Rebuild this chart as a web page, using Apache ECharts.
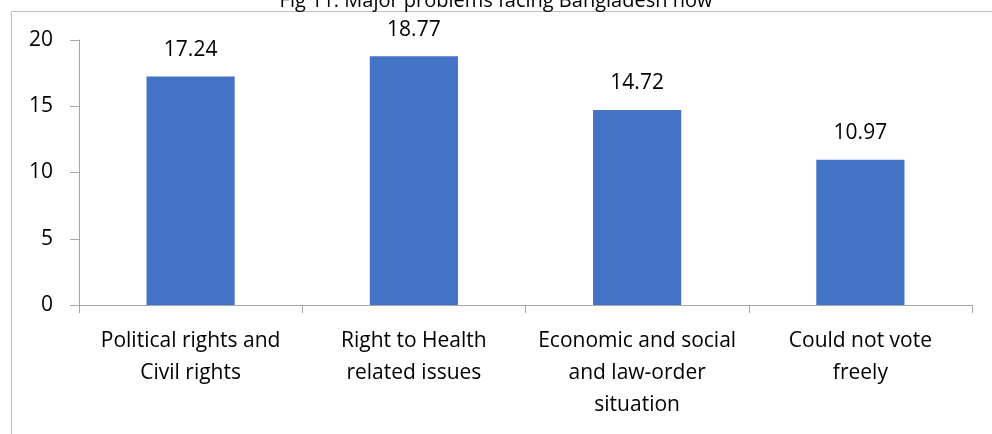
<!DOCTYPE html>
<html>
<head>
<meta charset="utf-8">
<script src="https://cdn.jsdelivr.net/npm/echarts@6/dist/echarts.min.js"></script>
<style>
  html, body { margin: 0; padding: 0; background: #fff; }
  #chart { width: 992px; height: 434px; }
</style>
</head>
<body>
<div id="chart"></div>
<script>
// Share of respondents naming each problem
const categories = [
  'Political rights and\nCivil rights',
  'Right to Health\nrelated issues',
  'Economic and social\nand law-order\nsituation',
  'Could not vote\nfreely'
];
const values = [17.24, 18.77, 14.72, 10.97];
const yTicks = [0, 5, 10, 15, 20];

const FONT = '"Open Sans", sans-serif';
const AXIS_GREY = '#a6a6a6';

const chart = echarts.init(document.getElementById('chart'));
chart.setOption({
  animation: false,
  title: {
    text: 'Fig 11: Major problems facing Bangladesh now',
    left: 'center',
    top: -14,
    textStyle: { fontFamily: FONT, fontSize: 20, fontWeight: 'normal', color: '#000' }
  },
  graphic: [{
    type: 'rect',
    left: 9, top: 9,
    shape: { width: 1100, height: 600 },
    style: { fill: 'none', stroke: '#bfbfbf', lineWidth: 1 },
    silent: true
  }],
  grid: { left: 79, right: 20, top: 40, bottom: 129 },
  xAxis: {
    type: 'category',
    data: categories,
    axisLine: { lineStyle: { color: AXIS_GREY, width: 1 } },
    axisTick: { show: true, alignWithLabel: false, length: 8, lineStyle: { color: AXIS_GREY } },
    axisLabel: {
      interval: 0, margin: 20,
      fontFamily: FONT, fontSize: 21, lineHeight: 32, color: '#000', align: 'center'
    }
  },
  yAxis: {
    type: 'value',
    min: yTicks[0], max: yTicks[yTicks.length - 1], interval: 5,
    splitLine: { show: false },
    axisLine: { show: true, lineStyle: { color: AXIS_GREY, width: 1 } },
    axisTick: { show: true, length: 9, lineStyle: { color: AXIS_GREY } },
    axisLabel: { margin: 26, fontFamily: FONT, fontSize: 21, color: '#000' }
  },
  series: [{
    type: 'bar',
    data: values,
    barWidth: '39.5%',
    itemStyle: { color: '#4472C4' },
    label: {
      show: true, position: 'top', distance: 16,
      fontFamily: FONT, fontSize: 21, color: '#000',
      formatter: p => p.value.toFixed(2)
    }
  }]
});
</script>
</body>
</html>
